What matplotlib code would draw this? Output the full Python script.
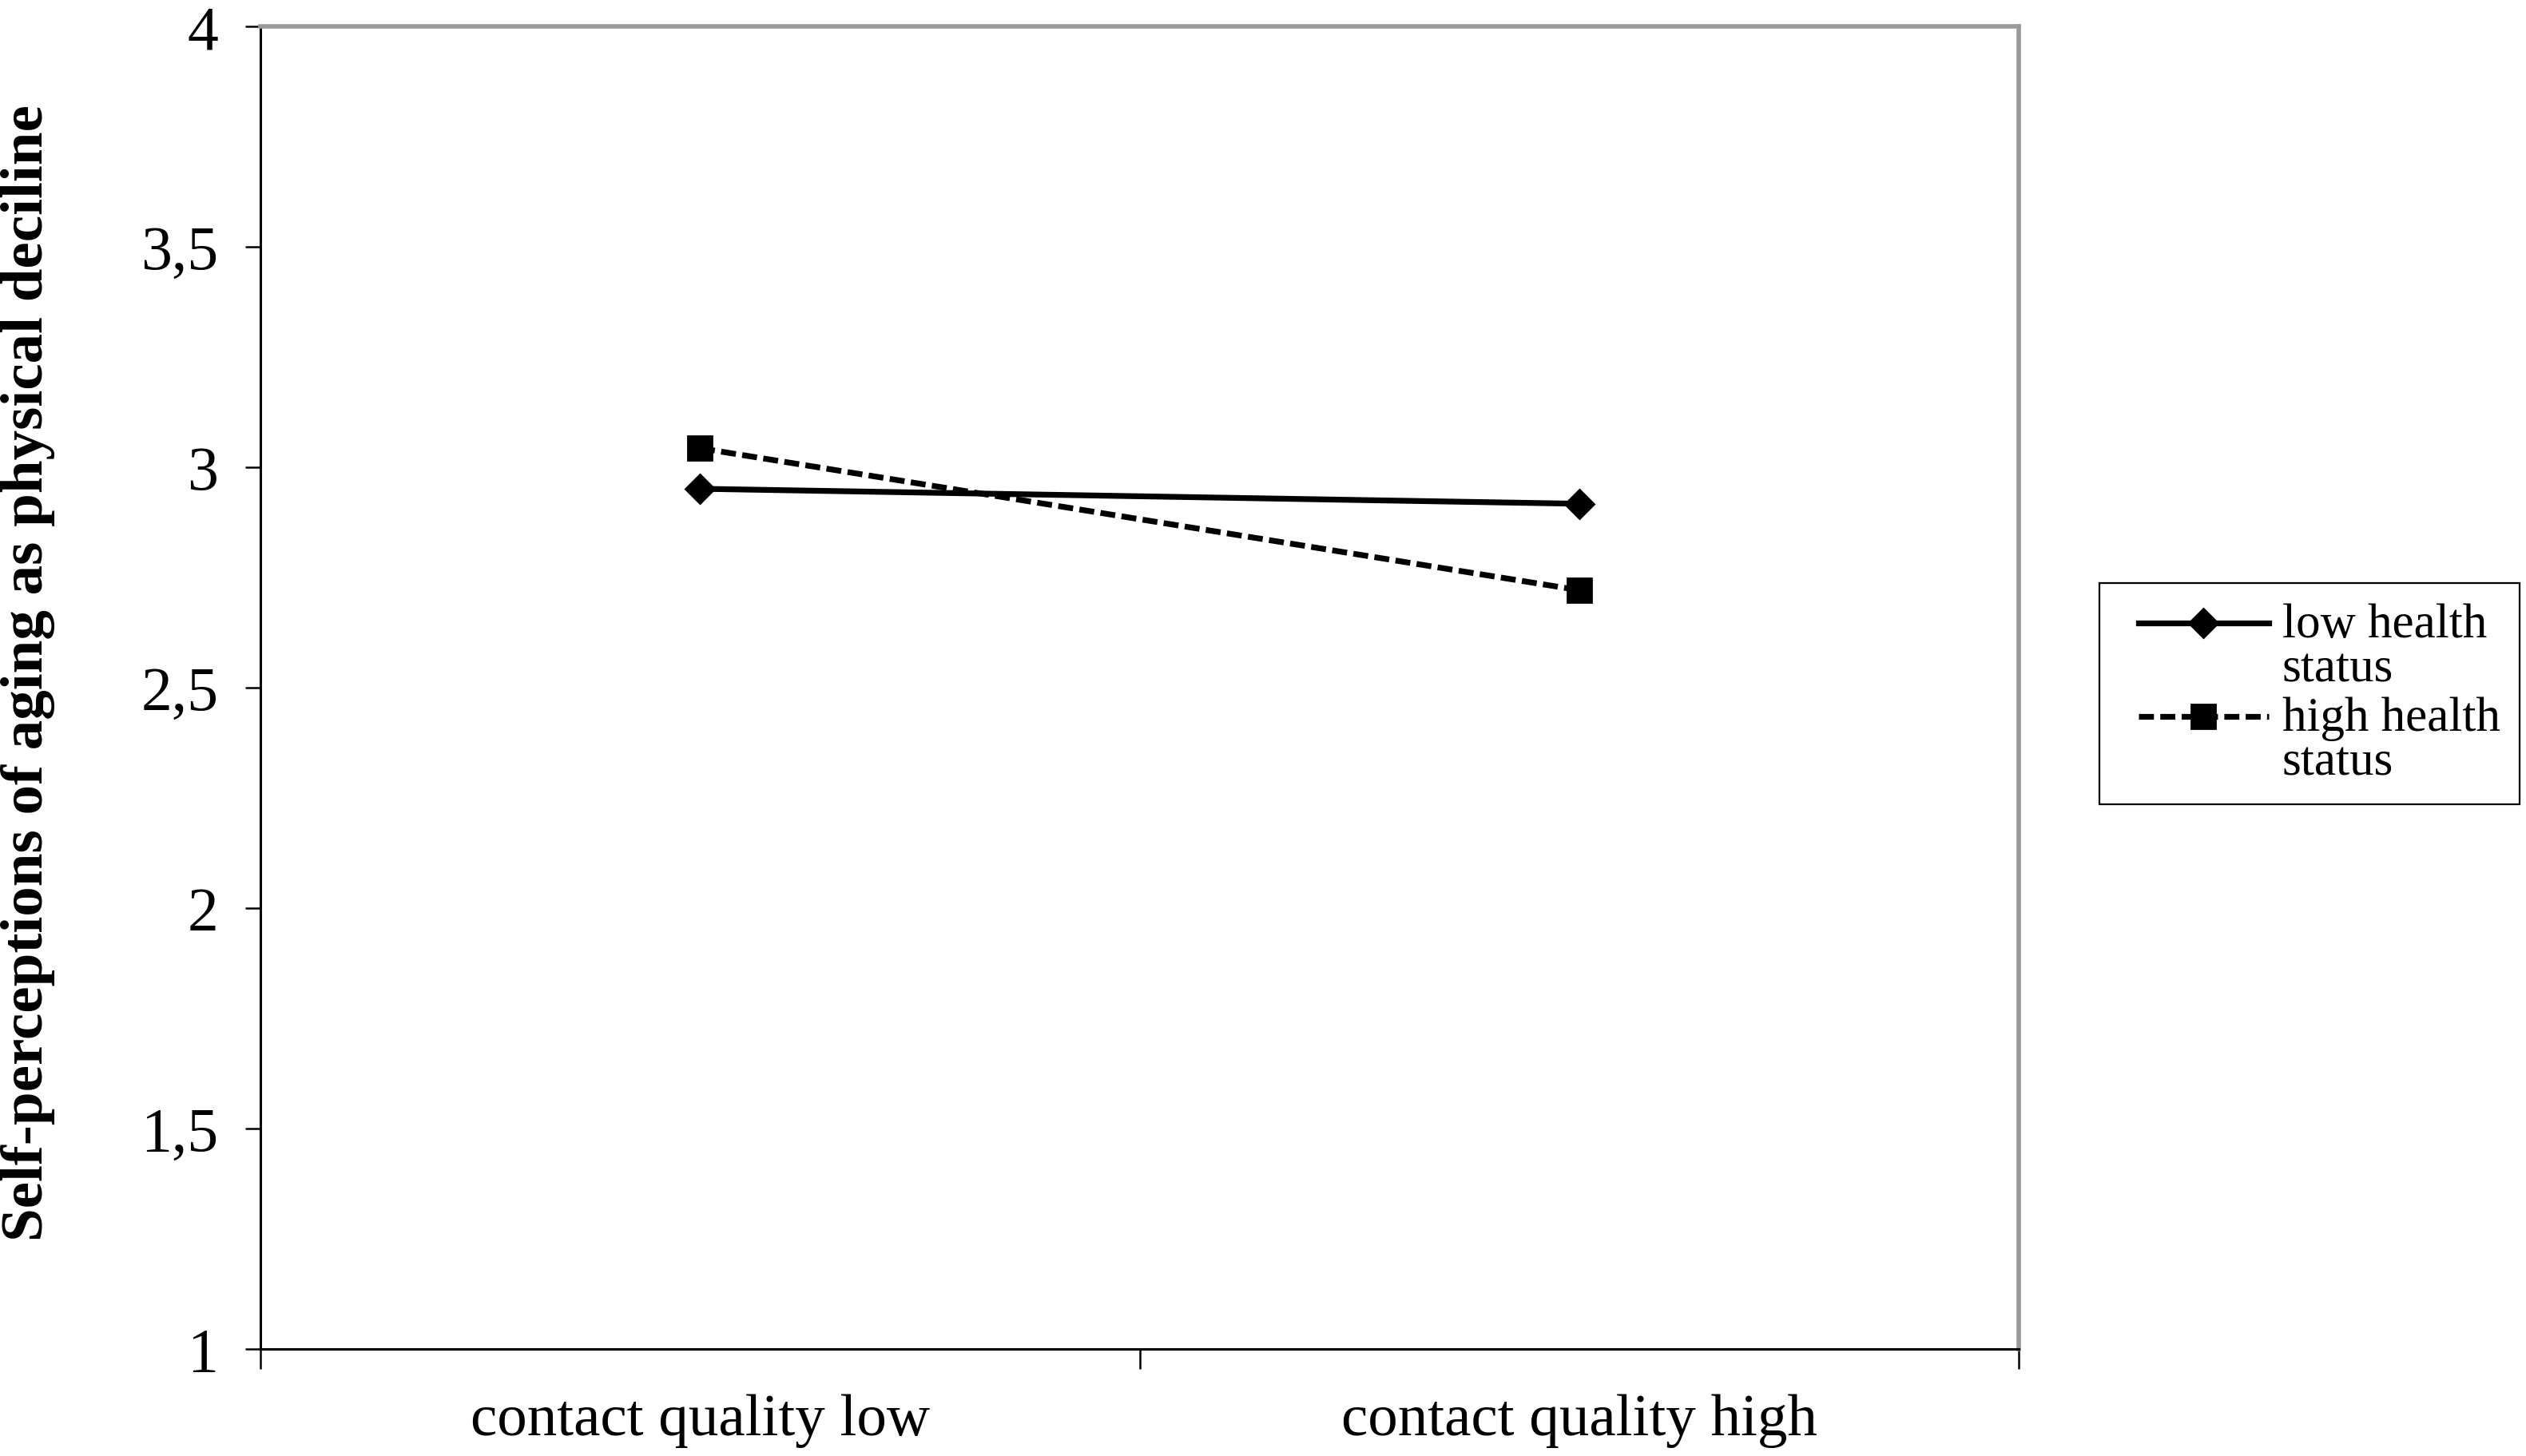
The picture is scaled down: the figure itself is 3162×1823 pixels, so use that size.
import numpy as np
import matplotlib
matplotlib.use('Agg')
import matplotlib.pyplot as plt
from matplotlib.legend_handler import HandlerLine2D

plt.rcParams['font.family'] = ['Liberation Serif', 'DejaVu Serif']

# Data
categories = ['contact quality low', 'contact quality high']
low_health = [2.951, 2.917]
high_health = [3.043, 2.721]
yticks = [1, 1.5, 2, 2.5, 3, 3.5, 4]
ytick_labels = ['1', '1,5', '2', '2,5', '3', '3,5', '4']

x = np.arange(len(categories)) + 0.5


class TopLineHandler(HandlerLine2D):
    # legend sample sits beside the first text line, with a gap on the left
    def create_artists(self, legend, orig_handle, xdescent, ydescent,
                       width, height, fontsize, trans):
        arts = super().create_artists(legend, orig_handle, xdescent, ydescent,
                                      width, height, fontsize, trans)
        x0 = -xdescent + 0.4 * fontsize
        x1 = -xdescent + width
        for a in arts:
            n = len(a.get_xdata())
            if n > 1:
                a.set_xdata(np.linspace(x0, x1, n))
            else:
                a.set_xdata([(x0 + x1) / 2])
            a.set_ydata(np.asarray(a.get_ydata(), float) + 0.5 * fontsize)
        return arts


fig = plt.figure(figsize=(15.81, 9.12), dpi=200)
ax = fig.add_axes([0.1031, 0.0735, 0.6961, 0.9079])

ax.plot(x, low_health, color='black', lw=2.6, marker='D', ms=9,
        label='low health\nstatus')
ax.plot(x, high_health, color='black', lw=2.6, marker='s', ms=10.5,
        dashes=(2.6, 1.1), label='high health\nstatus')

ax.set_xlim(0, 2)
ax.set_ylim(1, 4)
ax.set_yticks(yticks)
ax.set_yticklabels(ytick_labels)
ax.set_xticks([0, 1, 2])
ax.set_xticklabels([])
ax.set_xticks(x, minor=True)
ax.set_xticklabels(categories, minor=True)
ax.tick_params(axis='x', which='minor', length=0, pad=20, labelsize=27)
ax.tick_params(axis='x', which='major', length=9, width=0.9)
ax.tick_params(axis='y', length=7, width=0.9, pad=12, labelsize=28)

for s in ['left', 'bottom']:
    ax.spines[s].set_linewidth(1.1)
    ax.spines[s].set_color('black')
for s in ['top', 'right']:
    ax.spines[s].set_linewidth(2.0)
    ax.spines[s].set_color('#999999')

fig.text(0.011, 0.538, 'Self-perceptions of aging as physical deciline',
         fontweight='bold', fontsize=27, rotation=90,
         ha='center', va='center')

leg = fig.legend(loc='upper left', bbox_to_anchor=(0.831, 0.599),
                 fontsize=22, frameon=True, fancybox=False, edgecolor='black',
                 framealpha=1, handlelength=3.07, handletextpad=0.28,
                 borderpad=0.4, labelspacing=0.1, borderaxespad=0,
                 handler_map={plt.Line2D: TopLineHandler()})
leg.get_frame().set_linewidth(0.8)
for t in leg.get_texts():
    t.set_linespacing(1.0)

plt.savefig('out.png', dpi=200)
plt.close()
